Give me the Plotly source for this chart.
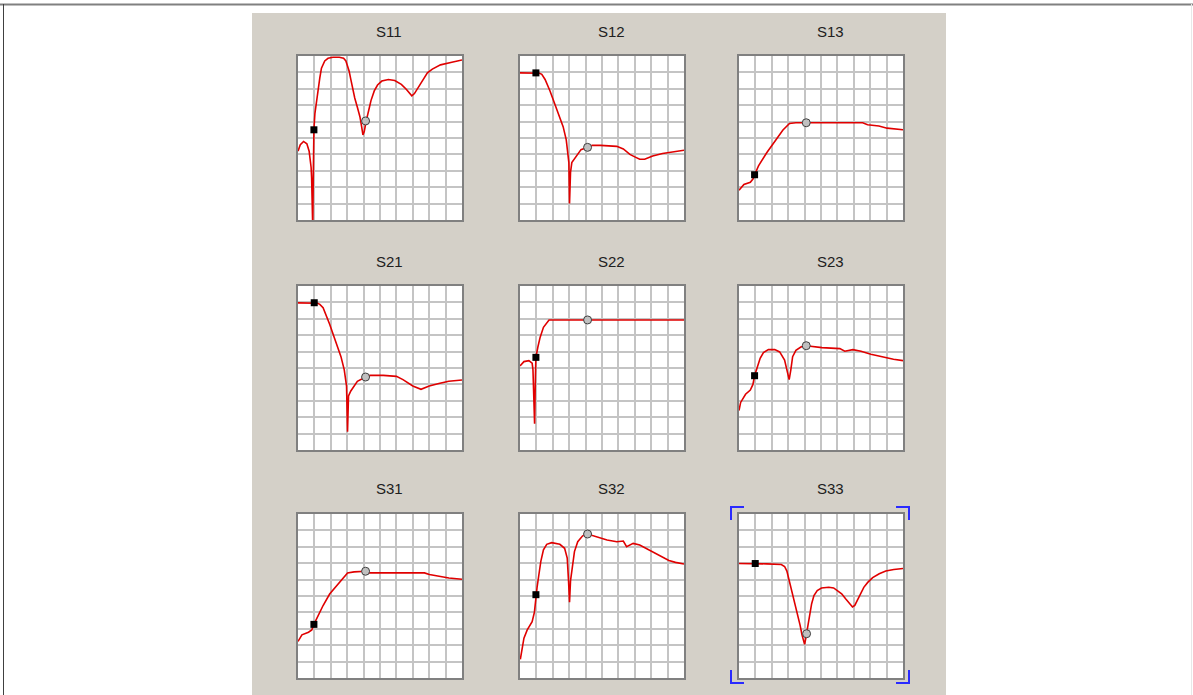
import plotly.graph_objects as go

W, H = 1193, 695

titles = ["S11", "S12", "S13", "S21", "S22", "S23", "S31", "S32", "S33"]

# curve data in grid units (10 x 10 divisions, y = 10 at top)
s11_x = [0, 0.14, 0.34, 0.54, 0.68, 0.76, 0.80, 0.83, 0.86, 0.90, 0.93, 0.97, 1.03, 1.13, 1.23, 1.33, 1.43, 1.63, 1.83, 2.13, 2.52, 2.78, 2.92, 3.02, 3.12, 3.22, 3.32, 3.46, 3.62, 3.78, 3.88, 3.96, 4.04, 4.08, 4.16, 4.31, 4.45, 4.65, 4.85, 5.11, 5.51, 5.90, 6.30, 6.60, 6.94, 7.10, 7.30, 7.59, 7.89, 8.19, 8.69, 9.38, 10]
s11_y = [4.2, 4.59, 4.79, 4.65, 4.19, 3.70, 3.2, 2.6, -0.5, -0.5, 2.5, 5.5, 6.48, 7.28, 8.07, 8.67, 9.26, 9.70, 9.86, 9.92, 9.92, 9.86, 9.70, 9.42, 9.07, 8.57, 8.03, 7.44, 6.88, 6.28, 5.69, 5.19, 5.39, 5.69, 6.04, 6.68, 7.28, 7.87, 8.23, 8.47, 8.57, 8.51, 8.27, 7.97, 7.57, 7.71, 8.03, 8.57, 8.97, 9.20, 9.46, 9.62, 9.76]

s12_x = [0, 0.97, 1.2, 1.33, 1.53, 1.83, 2.13, 2.43, 2.63, 2.82, 2.92, 2.98, 3.02, 3.08, 3.16, 3.42, 3.72, 4.12, 4.41, 4.91, 5.5, 5.9, 6.3, 6.7, 7.0, 7.3, 7.6, 8.09, 8.69, 9.28, 10]
s12_y = [8.97, 8.97, 8.95, 8.88, 8.57, 7.87, 7.08, 6.28, 5.69, 4.89, 4.1, 3.5, 1.01, 2.9, 3.5, 3.9, 4.29, 4.43, 4.55, 4.55, 4.52, 4.49, 4.33, 4.0, 3.85, 3.7, 3.7, 3.9, 4.06, 4.16, 4.25]

s13_x = [0, 0.3, 0.69, 0.85, 0.95, 1.19, 1.69, 2.18, 2.68, 3.08, 3.47, 4.1, 7.54, 7.84, 8.53, 9.03, 10]
s13_y = [1.81, 2.17, 2.3, 2.5, 2.76, 3.3, 4.1, 4.79, 5.49, 5.89, 5.93, 5.93, 5.93, 5.81, 5.73, 5.6, 5.5]

s21_x = [0, 0.99, 1.2, 1.33, 1.53, 1.93, 2.33, 2.62, 2.82, 2.96, 3.02, 3.08, 3.22, 3.62, 4.12, 4.41, 5.2, 6.0, 6.4, 7.0, 7.5, 8.0, 8.59, 9.19, 10]
s21_y = [8.97, 8.98, 8.95, 8.88, 8.67, 7.67, 6.48, 5.69, 4.89, 3.9, 1.11, 3.3, 3.6, 4.19, 4.45, 4.55, 4.55, 4.49, 4.29, 3.9, 3.7, 3.9, 4.06, 4.19, 4.27]

s22_x = [0, 0.24, 0.54, 0.74, 0.79, 0.82, 0.85, 0.89, 0.94, 0.97, 1.09, 1.23, 1.43, 1.63, 1.77, 4.12, 10]
s22_y = [5.13, 5.39, 5.45, 5.29, 4.9, 3.8, 4.3, 1.6, 4.5, 5.65, 6.28, 6.88, 7.48, 7.77, 7.93, 7.93, 7.93]

s23_x = [0, 0.1, 0.4, 0.69, 0.85, 0.95, 1.13, 1.29, 1.49, 1.79, 2.18, 2.48, 2.78, 2.92, 3.06, 3.16, 3.27, 3.47, 3.77, 4.1, 4.46, 5.06, 6.15, 6.45, 6.94, 7.44, 8.04, 8.83, 9.42, 10]
s23_y = [2.41, 2.9, 3.4, 3.66, 4.0, 4.53, 5.09, 5.59, 5.94, 6.12, 6.12, 5.98, 5.49, 4.89, 4.29, 4.89, 5.69, 6.08, 6.28, 6.36, 6.32, 6.24, 6.18, 6.02, 6.12, 6.02, 5.84, 5.65, 5.53, 5.45]

s31_x = [0, 0.24, 0.64, 0.84, 0.97, 1.23, 1.53, 1.93, 2.43, 2.82, 3.02, 3.42, 4.12, 4.32, 7.71, 8.01, 8.8, 9.2, 10]
s31_y = [2.23, 2.63, 2.79, 2.93, 3.27, 3.82, 4.42, 5.12, 5.72, 6.22, 6.41, 6.47, 6.51, 6.41, 6.41, 6.31, 6.18, 6.1, 6.02]

s32_x = [0.02, 0.1, 0.24, 0.44, 0.74, 0.88, 0.94, 0.97, 1.04, 1.14, 1.27, 1.43, 1.63, 1.93, 2.43, 2.72, 2.88, 2.96, 3.02, 3.08, 3.16, 3.32, 3.52, 3.82, 4.12, 4.51, 5.31, 5.9, 6.3, 6.5, 6.9, 7.3, 7.89, 8.49, 9.08, 9.48, 10]
s32_y = [1.14, 1.73, 2.43, 2.93, 3.43, 4.02, 4.62, 5.08, 5.52, 6.22, 7.11, 7.81, 8.15, 8.25, 8.15, 7.91, 7.31, 5.92, 4.62, 5.92, 6.51, 7.71, 8.31, 8.67, 8.78, 8.67, 8.41, 8.31, 8.35, 8.01, 8.21, 8.11, 7.81, 7.47, 7.17, 7.05, 6.95]

s33_x = [0, 0.99, 1.69, 2.58, 2.78, 2.92, 3.04, 3.18, 3.32, 3.44, 3.58, 3.72, 3.84, 3.94, 4.00, 4.06, 4.12, 4.19, 4.31, 4.43, 4.57, 4.77, 5.03, 5.47, 5.77, 6.02, 6.26, 6.50, 6.76, 6.92, 7.06, 7.22, 7.42, 7.61, 7.85, 8.15, 8.55, 8.95, 9.44, 10]
s33_y = [6.98, 6.98, 6.96, 6.92, 6.80, 6.52, 6.02, 5.43, 4.93, 4.43, 3.94, 3.24, 2.64, 2.15, 2.05, 2.35, 2.70, 3.24, 3.94, 4.53, 5.03, 5.33, 5.49, 5.53, 5.49, 5.33, 5.13, 4.83, 4.53, 4.33, 4.43, 4.73, 5.17, 5.53, 5.83, 6.12, 6.36, 6.52, 6.62, 6.68]

curves_x = [s11_x, s12_x, s13_x, s21_x, s22_x, s23_x, s31_x, s32_x, s33_x]
curves_y = [s11_y, s12_y, s13_y, s21_y, s22_y, s23_y, s31_y, s32_y, s33_y]

# marker positions (black square, grey circle)
m1_x = [0.97, 0.97, 0.95, 0.99, 0.97, 0.95, 0.97, 0.97, 0.99]
m1_y = [5.5, 8.97, 2.76, 8.98, 5.65, 4.53, 3.27, 5.08, 6.98]
m2_x = [4.12, 4.12, 4.1, 4.12, 4.12, 4.1, 4.12, 4.12, 4.12]
m2_y = [6.04, 4.43, 5.93, 4.45, 7.93, 6.36, 6.51, 8.78, 2.7]

# layout geometry (pixels): outer edge of each plot frame
col_left = [296, 518, 737]
row_top = [54, 284, 512]
box = 168
lw = 2

layout = dict(
    width=W, height=H, margin=dict(l=0, r=0, t=0, b=0),
    paper_bgcolor="white", plot_bgcolor="white", showlegend=False,
)

shapes = [
    dict(type="rect", xref="paper", yref="paper", x0=252/W, x1=946/W, y0=0, y1=1-13/H,
         fillcolor="#d4d0c8", line=dict(width=0), layer="below"),
    dict(type="line", xref="paper", yref="paper", x0=0, x1=1, y0=1-4.5/H, y1=1-4.5/H,
         line=dict(color="#808080", width=2)),
    dict(type="line", xref="paper", yref="paper", x0=3.5/W, x1=3.5/W, y0=0, y1=1-4/H,
         line=dict(color="#404040", width=1)),
    dict(type="line", xref="paper", yref="paper", x0=1191.5/W, x1=1191.5/W, y0=0, y1=1-4/H,
         line=dict(color="#e8e8e8", width=1)),
]
annotations = []

fig = go.Figure()

for i in range(9):
    r, c = divmod(i, 3)
    x0 = col_left[c] + lw
    x1 = col_left[c] + box - lw
    y0 = row_top[r] + lw
    y1 = row_top[r] + box - lw
    xa = "xaxis" if i == 0 else f"xaxis{i+1}"
    ya = "yaxis" if i == 0 else f"yaxis{i+1}"
    xr = "x" if i == 0 else f"x{i+1}"
    yr = "y" if i == 0 else f"y{i+1}"
    common = dict(range=[0, 10], dtick=1, tick0=0, showgrid=True, gridcolor="#c4c4c4",
                  gridwidth=2, showticklabels=False, ticks="", zeroline=False,
                  showline=True, linecolor="#808080", linewidth=lw, mirror=True, fixedrange=True)
    layout[xa] = dict(domain=[x0/W, x1/W], anchor=yr, **common)
    layout[ya] = dict(domain=[1-y1/H, 1-y0/H], anchor=xr, **common)

    shapes.append(dict(type="rect", xref="paper", yref="paper", x0=x0/W, x1=x1/W,
                       y0=1-y1/H, y1=1-y0/H, fillcolor="white", line=dict(width=0),
                       layer="below"))

    fig.add_trace(go.Scatter(x=curves_x[i], y=curves_y[i], mode="lines",
                             line=dict(color="#e00000", width=1.6), xaxis=xr, yaxis=yr))
    fig.add_trace(go.Scatter(x=[m1_x[i]], y=[m1_y[i]], mode="markers",
                             marker=dict(symbol="square", size=7, color="black"),
                             xaxis=xr, yaxis=yr))
    fig.add_trace(go.Scatter(x=[m2_x[i]], y=[m2_y[i]], mode="markers",
                             marker=dict(symbol="circle", size=8, color="#c0c0c0",
                                         line=dict(color="#404040", width=1)),
                             xaxis=xr, yaxis=yr))
    title_y = [32, 262, 488][r]
    annotations.append(dict(text=titles[i], xref="paper", yref="paper",
                            x=(col_left[c] + box/2 + 9)/W, y=1-title_y/H, showarrow=False,
                            xanchor="center", yanchor="middle",
                            font=dict(family="Liberation Sans", size=15, color="#202020")))

# blue selection brackets around S33
bx0, bx1, by0, by1 = 731, 909, 507, 683
L = 13
blue = dict(color="#2a2aff", width=2)
for (px, py, dx, dy) in [(bx0, by0, 1, 1), (bx1, by0, -1, 1), (bx0, by1, 1, -1), (bx1, by1, -1, -1)]:
    shapes.append(dict(type="path", xref="paper", yref="paper",
                       path=f"M {(px+dx*L)/W},{1-py/H} L {px/W},{1-py/H} L {px/W},{1-(py+dy*L)/H}",
                       line=blue))

layout["shapes"] = shapes
layout["annotations"] = annotations
fig.update_layout(**layout)
fig.write_html("out.html")
